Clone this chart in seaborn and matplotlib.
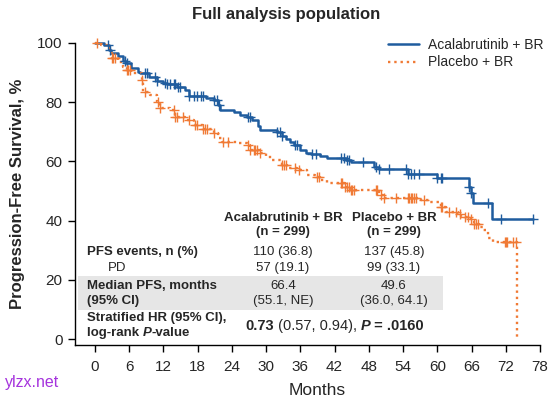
import numpy as np
import matplotlib
matplotlib.use('Agg')
import matplotlib.pyplot as plt
import seaborn as sns
from matplotlib.patches import Rectangle

# Kaplan-Meier steps (months, PFS %)
acala_t = [0, 1.5, 2.4, 2.8, 4.1, 5.0, 5.5, 6.4, 7.5, 7.9, 9.5, 10.8, 12.0, 12.6,
           14.4, 15.8, 16.4, 19.5, 20.8, 21.5, 22.0, 24.3, 25.5, 26.7, 27.5, 28.5,
           29.0, 31.9, 32.8, 33.5, 34.2, 34.9, 36.0, 37.0, 37.8, 39.5, 40.7, 44.0,
           44.8, 48.9, 49.8, 54.8, 60.0, 65.6, 65.9, 66.2, 69.6, 76.7]
acala_s = [100, 99.3, 97.5, 96.5, 95.6, 93.8, 93.1, 91.4, 90.3, 89.8, 88.5, 87.3, 86.5, 86.1,
           85.0, 84.1, 82.1, 81.5, 80.7, 79.0, 77.4, 76.8, 75.8, 75.1, 74.0, 72.0,
           70.6, 70.0, 68.6, 67.5, 66.5, 65.5, 63.9, 63.0, 62.5, 62.0, 61.0, 60.5,
           59.9, 58.0, 57.5, 55.7, 54.4, 51.5, 49.2, 45.8, 40.4, 40.4]
acala_cens = [2.3, 2.6, 5.3, 5.6, 8.8, 9.1, 10.5, 10.8, 12.3, 12.6, 13.2, 13.8, 14.1,
              14.6, 14.9, 16.4, 17.3, 17.9, 18.5, 19.0, 20.8, 21.4, 21.7, 26.9, 27.2,
              31.9, 32.5, 32.8, 35.1, 35.4, 38.1, 38.7, 43.1, 43.6, 44.2, 44.5, 46.9,
              49.2, 49.8, 51.5, 54.5, 54.8, 55.4, 55.9, 56.8, 60.0, 60.6, 60.9, 65.6,
              65.9, 68.8, 71.2, 76.7]

placebo_t = [0, 1.0, 2.1, 2.6, 2.9, 4.1, 5.0, 5.6, 6.4, 8.2, 8.5, 9.7, 10.8, 11.4,
             13.2, 14.1, 15.8, 17.3, 19.0, 20.8, 21.5, 22.3, 24.9, 26.7, 27.2, 28.7,
             30.0, 31.0, 32.8, 33.7, 35.4, 37.2, 38.5, 39.5, 40.7, 43.9, 44.8, 49.8,
             50.4, 57.1, 58.5, 60.6, 61.5, 63.6, 64.1, 65.9, 66.5, 67.3, 68.0, 68.8,
             69.7, 73.9]
placebo_s = [100, 99.3, 98.2, 96.5, 94.8, 93.7, 92.0, 90.9, 89.8, 87.5, 83.5, 82.4, 80.2, 77.9,
             77.4, 75.1, 74.0, 72.3, 71.1, 69.5, 68.0, 66.6, 66.1, 65.5, 63.9, 62.7,
             61.5, 60.5, 58.8, 57.7, 57.1, 55.4, 54.9, 53.7, 52.6, 51.5, 50.3, 48.6,
             47.5, 47.0, 46.4, 44.7, 43.0, 42.4, 41.3, 40.7, 39.0, 38.0, 36.8, 34.0,
             32.9, 0]
placebo_cens = [0.3, 2.9, 3.2, 3.5, 5.6, 5.8, 6.2, 8.2, 8.8, 11.1, 11.4, 13.8, 14.1, 14.4,
                15.5, 16.4, 17.6, 17.9, 19.0, 19.3, 19.6, 20.8, 22.5, 23.4, 26.9, 27.2,
                27.8, 28.1, 28.4, 29.0, 32.8, 33.1, 33.4, 35.1, 35.7, 39.0, 39.3, 43.1,
                43.3, 43.9, 44.2, 44.5, 44.8, 45.1, 45.4, 49.2, 49.5, 50.1, 50.7, 52.7,
                54.8, 55.1, 55.4, 55.6, 55.9, 56.2, 57.7, 60.6, 60.9, 62.1, 63.3, 63.9,
                64.8, 65.3, 65.9, 66.5, 66.8, 67.1, 71.8, 72.1, 72.3, 73.2, 73.8]

x_ticks = list(range(0, 79, 6))
y_ticks = [0, 20, 40, 60, 80, 100]

row_labels = ['PFS events, n (%)', 'Median PFS, months', '(95% CI)']
acala_col = ['Acalabrutinib + BR', '(n = 299)', '110 (36.8)', '57 (19.1)', '66.4', '(55.1, NE)']
placebo_col = ['Placebo + BR', '(n = 299)', '137 (45.8)', '99 (33.1)', '49.6', '(36.0, 64.1)']

BLUE = '#1f5c9e'
ORANGE = '#f07a35'

sns.set_style('ticks')
plt.rcParams['font.family'] = ['Liberation Sans', 'DejaVu Sans']

W, H = 554, 399
fig = plt.figure(figsize=(W / 100, H / 100), dpi=100)
ax = fig.add_axes([75 / W, 1 - 345 / H, 465 / W, 302 / H])


def fx(px):
    return px / W


def fy(py):
    return 1 - py / H


def at_time(t, s, c):
    idx = np.searchsorted(t, c, side='right') - 1
    return np.asarray(s)[idx]


# grey band behind the median row
ax.add_patch(Rectangle((fx(78), fy(310)), fx(443) - fx(78), fy(276) - fy(310),
                       transform=fig.transFigure, color='#e6e6e6', lw=0, zorder=0))

sns.lineplot(x=acala_t, y=acala_s, drawstyle='steps-post', color=BLUE, lw=1.8,
             estimator=None, sort=False, ax=ax, label='Acalabrutinib + BR')
sns.lineplot(x=placebo_t, y=placebo_s, drawstyle='steps-post', color=ORANGE, lw=1.7,
             linestyle=':', estimator=None, sort=False, ax=ax, label='Placebo + BR')
ax.plot(acala_cens, at_time(acala_t, acala_s, acala_cens), ls='none', marker='+',
        ms=7, mew=1, color=BLUE)
ax.plot(placebo_cens, at_time(placebo_t, placebo_s, placebo_cens), ls='none', marker='+',
        ms=7, mew=1, color=ORANGE)

ax.set_xlim(-3.5, 78)
ax.set_ylim(-2, 100)
ax.set_xticks(x_ticks)
ax.set_yticks(y_ticks)
ax.tick_params(labelsize=11, length=5, width=1, color='black', pad=4)
ax.tick_params(axis='x', pad=6)
for sp in ['left', 'bottom']:
    ax.spines[sp].set_color('black')
    ax.spines[sp].set_linewidth(1)
sns.despine(ax=ax)
for ln in ax.lines:
    ln.set_clip_on(False)

ax.set_xlabel('Months', fontsize=12.5)
ax.xaxis.set_label_coords((317 - 75) / 465, -0.125)
ax.set_ylabel('Progression-Free Survival, %', fontsize=12, fontweight='bold')
ax.yaxis.set_label_coords(-(75 - 25) / 465, 0.5)

ax.legend(loc='upper left', bbox_to_anchor=(fx(388), fy(38)), bbox_transform=fig.transFigure,
          frameon=False, fontsize=10, handlelength=2.2, handletextpad=0.7,
          labelspacing=0.25, borderpad=0, borderaxespad=0)

fig.text(fx(286), fy(15), 'Full analysis population', fontsize=12, fontweight='bold',
         ha='center', va='center')

# summary table
fs = 9.5
fig.text(fx(87), fy(252), row_labels[0], fontsize=fs, fontweight='bold', va='center')
fig.text(fx(108), fy(268), 'PD', fontsize=fs, va='center')
fig.text(fx(87), fy(286), row_labels[1], fontsize=fs, fontweight='bold', va='center')
fig.text(fx(87), fy(301), row_labels[2], fontsize=fs, fontweight='bold', va='center')
fig.text(fx(87), fy(318), 'Stratified HR (95% CI),', fontsize=fs, fontweight='bold', va='center')
t = fig.text(fx(87), fy(333), 'log-rank ', fontsize=fs, fontweight='bold', va='center')
t = ax.annotate('P', xy=(1, 0), xycoords=t, va='bottom', fontsize=fs, fontweight='bold',
                fontstyle='italic', annotation_clip=False)
ax.annotate('-value', xy=(1, 0), xycoords=t, va='bottom', fontsize=fs, fontweight='bold',
            annotation_clip=False)

row_y = [218, 232, 252, 268, 286, 301]
for i, (a, p) in enumerate(zip(acala_col, placebo_col)):
    w = 'bold' if i < 2 else 'normal'
    fig.text(fx(283), fy(row_y[i]), a, fontsize=fs, fontweight=w, ha='center', va='center')
    fig.text(fx(394), fy(row_y[i]), p, fontsize=fs, fontweight=w, ha='center', va='center')

hs = 10.5
t = fig.text(fx(245), fy(326), '0.73', fontsize=hs, fontweight='bold', va='center')
t = ax.annotate(' (0.57, 0.94), ', xy=(1, 0), xycoords=t, va='bottom', fontsize=hs,
                annotation_clip=False)
t = ax.annotate('P', xy=(1, 0), xycoords=t, va='bottom', fontsize=hs, fontweight='bold',
                fontstyle='italic', annotation_clip=False)
ax.annotate(' = .0160', xy=(1, 0), xycoords=t, va='bottom', fontsize=hs, fontweight='bold',
            annotation_clip=False)

fig.text(fx(5), fy(383), 'ylzx.net', fontsize=11.5, color='#a533dd', va='center')

fig.savefig('out.png', dpi=100)
